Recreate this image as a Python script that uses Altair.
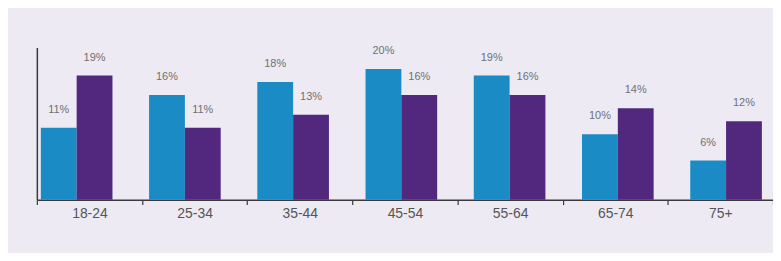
import altair as alt
import pandas as pd

ages = ["18-24", "25-34", "35-44", "45-54", "55-64", "65-74", "75+"]
series_names = ["Series 1", "Series 2"]
series_1 = [11, 16, 18, 20, 19, 10, 6]
series_2 = [19, 11, 13, 16, 16, 14, 12]
colors = ["#1A8BC5", "#52287F"]

rows = []
for i, a in enumerate(ages):
    rows.append({"age": a, "series": series_names[0], "value": series_1[i], "label": f"{series_1[i]}%"})
    rows.append({"age": a, "series": series_names[1], "value": series_2[i], "label": f"{series_2[i]}%"})
df = pd.DataFrame(rows)
df_cat = pd.DataFrame({"age": ages})

x_bars = alt.X("age:N", sort=ages, axis=None,
               scale=alt.Scale(range=[0, 761.6], paddingInner=0, paddingOuter=0))
x_off = alt.XOffset("series:N", sort=series_names,
                    scale=alt.Scale(paddingInner=0, paddingOuter=0.511, align=0.109))
y_enc = alt.Y("value:Q", scale=alt.Scale(domain=[0, 23.3], nice=False, zero=True),
              axis=alt.Axis(title=None, labels=False, ticks=False, grid=False,
                            domain=True, domainColor="#3a3a3a", domainWidth=1.5))

base = alt.Chart(df)
bars = base.mark_bar().encode(
    x=x_bars, xOffset=x_off, y=y_enc,
    color=alt.Color("series:N", sort=series_names,
                    scale=alt.Scale(domain=series_names, range=colors), legend=None),
)
labels = base.mark_text(baseline="alphabetic", dy=-15, fontSize=11,
                        font="Liberation Sans", color="#707070").encode(
    x=x_bars, xOffset=x_off, y=alt.Y("value:Q"), text="label:N"
)
inner = alt.layer(bars, labels)

axis_layer = alt.Chart(df_cat).mark_point(opacity=0).encode(
    x=alt.X("age:N", sort=ages, title=None,
            scale=alt.Scale(paddingInner=0, paddingOuter=0),
            axis=alt.Axis(ticks=True, tickBand="extent", tickSize=5, tickColor="#3a3a3a",
                          tickWidth=1.2,
                          domainColor="#3a3a3a", domainWidth=1.5, labelAngle=0,
                          labelFontSize=14, labelColor="#555555", labelFont="Liberation Sans",
                          labelPadding=2, grid=False)),
    y=alt.value(0),
)

chart = alt.layer(inner, axis_layer).resolve_scale(x="independent").properties(
    width=740, height=153,
    padding={"left": 29, "top": 39, "right": 0, "bottom": 53},
    autosize=alt.AutoSizeParams(type="none"),
    background="#EDEAF4",
).configure_view(stroke=None)

chart.save("out.html", embed_options={"renderer": "svg", "actions": False})
